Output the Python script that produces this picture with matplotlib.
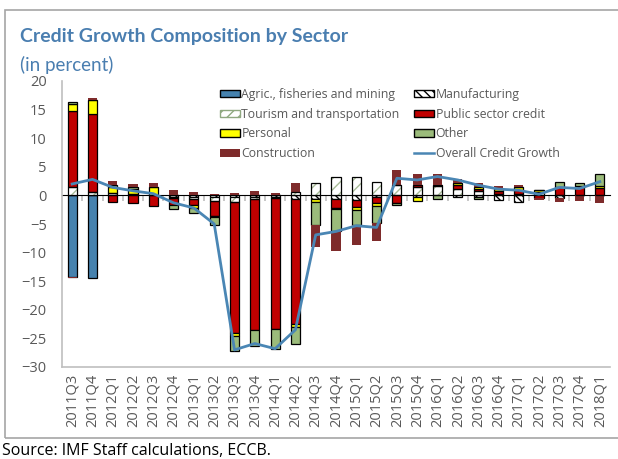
import matplotlib.pyplot as plt
import matplotlib.patches as mpatches
from matplotlib.lines import Line2D
import numpy as np

quarters = ["2011Q3", "2011Q4", "2012Q1", "2012Q2", "2012Q3", "2012Q4", "2013Q1",
            "2013Q2", "2013Q3", "2013Q4", "2014Q1", "2014Q2", "2014Q3", "2014Q4",
            "2015Q1", "2015Q2", "2015Q3", "2015Q4", "2016Q1", "2016Q2", "2016Q3",
            "2016Q4", "2017Q1", "2017Q2", "2017Q3", "2017Q4", "2018Q1"]

agric = [-14.3, -14.4, 0, 0, 0, 0, 0, 0, 0, 0, 0, 0, 0, 0,
         0, 0, 0, 0, 0, 0, 0, 0, 0, 0, 0, 0, 0]
manufacturing = [0, 0.1, 0, 0, 0, -0.2, -0.2, -0.2, -0.2, -0.2, -0.2, -0.7, -0.6, -0.7,
                 -0.8, -0.2, 0, -0.2, 0, -0.2, -0.2, -0.8, -1.1, 0, -0.5, 0, 0]
tourism = [1.4, 0.5, 0.5, 0.3, 0.1, -0.3, -0.4, -0.8, -1.0, -0.4, -0.3, 0.65, 2.1, 3.15,
           3.3, 2.3, 1.9, 1.5, 1.6, 1.2, 0.8, 0.3, 0.3, 0.65, 0, 0, 0]
public = [13.4, 13.7, -1.1, -1.3, -1.9, -1.2, -1.1, -2.6, -22.8, -23.0, -22.9, -21.7, -0.1, -1.5,
          -1.2, -1.1, -1.3, 0.4, 0.3, 0.7, 0.4, 0.4, 0.7, -0.4, 1.4, 1.5, 1.3]
personal = [1.1, 2.3, 0.9, 0.8, 1.3, 0, -0.5, -0.2, -0.5, 0, 0, -0.6, -0.5, -0.2,
            -0.5, -0.6, 0, -0.8, 0, 0.2, 0.3, 0.4, 0.5, 0.3, 0, 0.15, 0.35]
other = [0.5, 0.1, 0.4, 0.3, 0, -0.6, -0.8, -1.3, -2.7, -2.8, -3.5, -3.0, -4.0, -3.9,
         -2.6, -3.0, -0.4, 0, -0.6, 0, -0.4, 0, 0, 0, 1.0, 0.45, 2.05]
construction = [-0.2, 0.4, 0.8, 0.6, 0.7, 0.9, 0.65, 0.3, 0.35, 0.8, 0.5, 1.45, -3.8, -3.5,
                -3.5, -3.0, 2.6, 1.9, 1.9, 0.7, 0.7, 0.55, 0.4, -0.4, -0.6, -0.9, -1.3]
overall = [2.0, 2.8, 1.4, 0.8, 0.3, -1.3, -2.2, -5.0, -27.0, -25.9, -26.8, -23.5, -6.9, -6.3,
           -5.3, -5.6, 3.0, 2.7, 3.3, 2.7, 1.8, 1.1, 0.9, 0.2, 1.4, 1.2, 2.4]

blue = "#4A86B4"
gray_txt = "#595959"

plt.rcParams['font.family'] = ["Open Sans", 'DejaVu Sans']

fig = plt.figure(figsize=(6.18, 4.59), dpi=100)
ax = fig.add_axes([62 / 618, 1 - 367 / 459, 548 / 618, 286 / 459])

x = np.arange(len(quarters))
w = 0.45
pos_bottom = np.zeros(len(x))
neg_bottom = np.zeros(len(x))


def stack(vals, **kw):
    global pos_bottom, neg_bottom
    v = np.array(vals, dtype=float)
    b = np.where(v >= 0, pos_bottom, neg_bottom)
    hatch_col = kw.pop("hatch_col", None)
    if hatch_col is not None:
        ax.bar(x, v, w, bottom=b, color="white", edgecolor=hatch_col, linewidth=0,
               hatch=kw.pop("hatch"), zorder=2)
        ax.bar(x, v, w, bottom=b, facecolor="none", edgecolor="black", linewidth=0.9, zorder=3)
    else:
        ax.bar(x, v, w, bottom=b, zorder=2, **kw)
    pos_bottom = pos_bottom + np.where(v > 0, v, 0)
    neg_bottom = neg_bottom + np.where(v < 0, v, 0)


stack(agric, color="#4682AE", edgecolor="black", linewidth=0.9)
stack(manufacturing, color="white", edgecolor="black", linewidth=0.9, hatch="\\\\\\\\\\")
stack(tourism, hatch="///", hatch_col="#A8BC98")
stack(public, color="#C00000", edgecolor="black", linewidth=0.9)
stack(personal, color="#FFFF00", edgecolor="black", linewidth=0.9)
stack(other, color="#9BBB7B", edgecolor="black", linewidth=0.9)
stack(construction, color="#7E2B2B", edgecolor="none", linewidth=0)

ax.plot(x, overall, color=blue, linewidth=2, zorder=4)

ax.set_xlim(-0.5, len(x) - 0.5)
ax.set_ylim(-30, 20)
ax.set_yticks(range(-30, 21, 5))
ax.set_xticks(x)
ax.set_xticklabels(quarters, rotation=90)
ax.tick_params(axis="x", length=0, pad=5, labelsize=10.5, colors=gray_txt)
ax.tick_params(axis="y", length=0, pad=11, labelsize=10.5, colors=gray_txt)
for s in ["top", "right"]:
    ax.spines[s].set_visible(False)
for s in ["left", "bottom"]:
    ax.spines[s].set_color("#BFBFBF")
    ax.spines[s].set_linewidth(1.2)

# zero axis with category tick marks
sec = ax.secondary_xaxis(30 / 50)
sec.set_xticks(x[:-1] + 0.5)
sec.set_xticklabels([])
sec.tick_params(direction="in", length=4, color="#BFBFBF", width=1.2)
sec.spines["bottom"].set_color("#BFBFBF")
sec.spines["bottom"].set_linewidth(1.2)

# legend
handles = [
    mpatches.Patch(facecolor="#4682AE", edgecolor="black", label="Agric., fisheries and mining"),
    mpatches.Patch(facecolor="white", edgecolor="#8FA880", hatch="///", label="Tourism and transportation"),
    mpatches.Patch(facecolor="#FFFF00", edgecolor="black", label="Personal"),
    mpatches.Patch(facecolor="#7E2B2B", edgecolor="none", label="Construction"),
    mpatches.Patch(facecolor="white", edgecolor="black", hatch="\\\\\\\\", label="Manufacturing"),
    mpatches.Patch(facecolor="#C00000", edgecolor="black", label="Public sector credit"),
    mpatches.Patch(facecolor="#9BBB7B", edgecolor="black", label="Other"),
    Line2D([], [], color=blue, linewidth=1.8, label="Overall Credit Growth"),
]
leg = fig.legend(handles=handles, ncol=2, loc="upper left",
                 bbox_to_anchor=(220 / 618, 1 - 88 / 459), frameon=False,
                 fontsize=8.8, handlelength=1.6, handleheight=0.55, handletextpad=0.15,
                 columnspacing=1.2, labelspacing=0.55, borderaxespad=0, borderpad=0)
for t in leg.get_texts():
    t.set_color(gray_txt)

fig.text(20 / 618, 1 - 42 / 459, "Credit Growth Composition by Sector", color="#4A7EB0",
         fontsize=14, fontweight="bold", family=["Lato", "DejaVu Sans"])
fig.text(20 / 618, 1 - 71 / 459, "(in percent)", color="#4A7EB0", fontsize=13.5,
         family=["Lato", "DejaVu Sans"])
fig.text(2 / 618, 1 - 455 / 459, "Source: IMF Staff calculations, ECCB.", color="black",
         fontsize=11.5)

fig.patches.append(mpatches.Rectangle((5 / 618, 1 - 438 / 459), 620 / 618, 428 / 459,
                                      transform=fig.transFigure, fill=False,
                                      edgecolor="#A6A6A6", linewidth=1.2))

fig.savefig("out.png", dpi=100)
